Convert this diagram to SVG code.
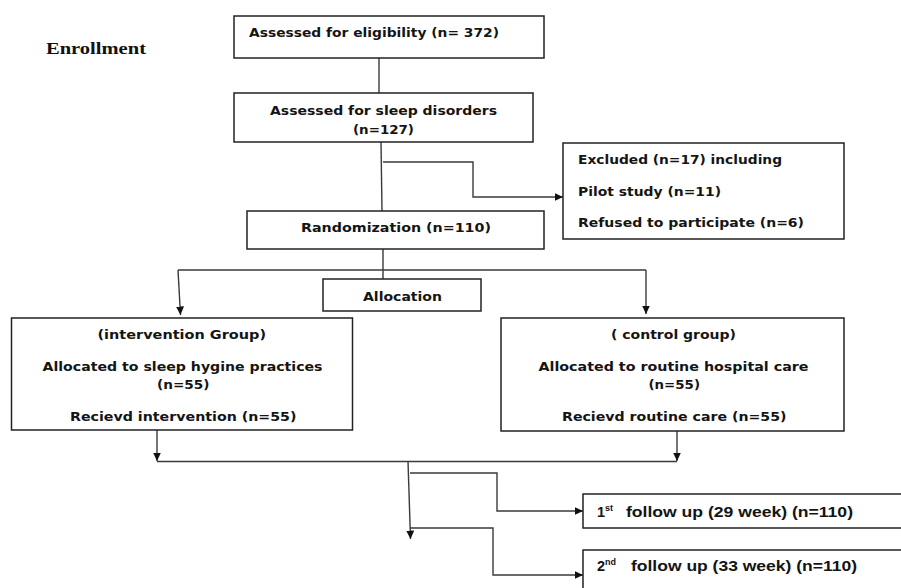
<svg xmlns="http://www.w3.org/2000/svg" width="901" height="588" viewBox="0 0 901 588">
<defs>
<marker id="arr" markerUnits="userSpaceOnUse" markerWidth="9" markerHeight="8" refX="8.5" refY="4" orient="auto">
<path d="M0,0 L8.5,4 L0,8 z" fill="#111"/>
</marker>
<style>
.box{fill:#fff;stroke:#222;stroke-width:1.5}
.ln{fill:none;stroke:#3a3a3a;stroke-width:1.4}
.ar{marker-end:url(#arr)}
.t{font-family:"DejaVu Sans",Verdana,sans-serif;font-weight:bold;font-size:13px;fill:#141414}
.f{font-family:"Liberation Sans",Arial,sans-serif;font-weight:bold;font-size:14.5px;fill:#141414}
.s{font-family:"Liberation Sans",Arial,sans-serif;font-weight:bold;font-size:9px;fill:#141414}
.e{font-family:"Liberation Serif","Times New Roman",serif;font-weight:bold;font-size:16.5px;fill:#111}
</style>
</defs>
<rect width="901" height="588" fill="#fff"/>
<text class="e" x="46" y="53.5" textLength="100" lengthAdjust="spacingAndGlyphs">Enrollment</text>
<g id="connectors">
<line class="ln" x1="379" y1="58" x2="379" y2="93"/>
<line class="ln" x1="381" y1="142" x2="382" y2="211"/>
<polyline class="ln ar" points="383,162 473,162 473,197 563,197"/>
<line class="ln" x1="383" y1="249" x2="383" y2="279"/>
<line class="ln" x1="178" y1="270" x2="646" y2="270"/>
<line class="ln ar" x1="178" y1="270" x2="180.5" y2="315"/>
<line class="ln ar" x1="646" y1="270" x2="646" y2="314"/>
<line class="ln ar" x1="157" y1="430" x2="157" y2="461"/>
<line class="ln ar" x1="677" y1="431" x2="677" y2="461"/>
<line class="ln" x1="157" y1="461.5" x2="677" y2="461.5"/>
<line class="ln ar" x1="408" y1="461" x2="410.5" y2="539"/>
<polyline class="ln ar" points="410,473 497,473 497,511 583,511"/>
<polyline class="ln ar" points="410,528 493,528 493,575 583,575"/>
</g>
<g id="eligibility">
<rect class="box" x="234" y="16" width="310" height="42"/>
<text class="t" x="249" y="36.5" textLength="250" lengthAdjust="spacingAndGlyphs">Assessed for eligibility (n= 372)</text>
</g>
<g id="sleep">
<rect class="box" x="234" y="93" width="299" height="49"/>
<text class="t" x="270" y="115" textLength="227" lengthAdjust="spacingAndGlyphs">Assessed for sleep disorders</text>
<text class="t" x="353" y="133.5" textLength="61" lengthAdjust="spacingAndGlyphs">(n=127)</text>
</g>
<g id="excluded">
<rect class="box" x="563" y="143" width="281" height="96"/>
<text class="t" x="578" y="164" textLength="204" lengthAdjust="spacingAndGlyphs">Excluded (n=17) including</text>
<text class="t" x="578" y="195.5" textLength="143" lengthAdjust="spacingAndGlyphs">Pilot study (n=11)</text>
<text class="t" x="578" y="227" textLength="226" lengthAdjust="spacingAndGlyphs">Refused to participate (n=6)</text>
</g>
<g id="randomization">
<rect class="box" x="247" y="211" width="297" height="38"/>
<text class="t" x="301" y="232" textLength="190" lengthAdjust="spacingAndGlyphs">Randomization (n=110)</text>
</g>
<g id="allocation">
<rect class="box" x="323" y="279" width="158" height="32"/>
<text class="t" x="363" y="300.5" textLength="79" lengthAdjust="spacingAndGlyphs">Allocation</text>
</g>
<g id="intervention">
<rect class="box" x="11.5" y="318" width="341" height="112"/>
<text class="t" x="97.5" y="338.5" textLength="168.5" lengthAdjust="spacingAndGlyphs">(intervention Group)</text>
<text class="t" x="42.5" y="371" textLength="280" lengthAdjust="spacingAndGlyphs">Allocated to sleep hygine practices</text>
<text class="t" x="157" y="388.5" textLength="52.5" lengthAdjust="spacingAndGlyphs">(n=55)</text>
<text class="t" x="70" y="421" textLength="226.5" lengthAdjust="spacingAndGlyphs">Recievd intervention (n=55)</text>
</g>
<g id="control">
<rect class="box" x="501" y="318" width="343" height="113"/>
<text class="t" x="611" y="338.5" textLength="125" lengthAdjust="spacingAndGlyphs">( control group)</text>
<text class="t" x="538.5" y="371" textLength="270" lengthAdjust="spacingAndGlyphs">Allocated to routine hospital care</text>
<text class="t" x="648.5" y="388.5" textLength="51.5" lengthAdjust="spacingAndGlyphs">(n=55)</text>
<text class="t" x="562" y="421" textLength="224.5" lengthAdjust="spacingAndGlyphs">Recievd routine care (n=55)</text>
</g>
<g id="followup1">
<rect class="box" x="583" y="494" width="325" height="34"/>
<text class="f" x="597" y="516.5">1</text>
<text class="s" x="605" y="511">st</text>
<text class="f" x="626" y="516.5" textLength="227" lengthAdjust="spacingAndGlyphs">follow up (29 week) (n=110)</text>
</g>
<g id="followup2">
<rect class="box" x="583" y="550" width="325" height="45"/>
<text class="f" x="597" y="570.5">2</text>
<text class="s" x="605" y="565">nd</text>
<text class="f" x="631" y="570.5" textLength="226" lengthAdjust="spacingAndGlyphs">follow up (33 week) (n=110)</text>
</g>
</svg>
